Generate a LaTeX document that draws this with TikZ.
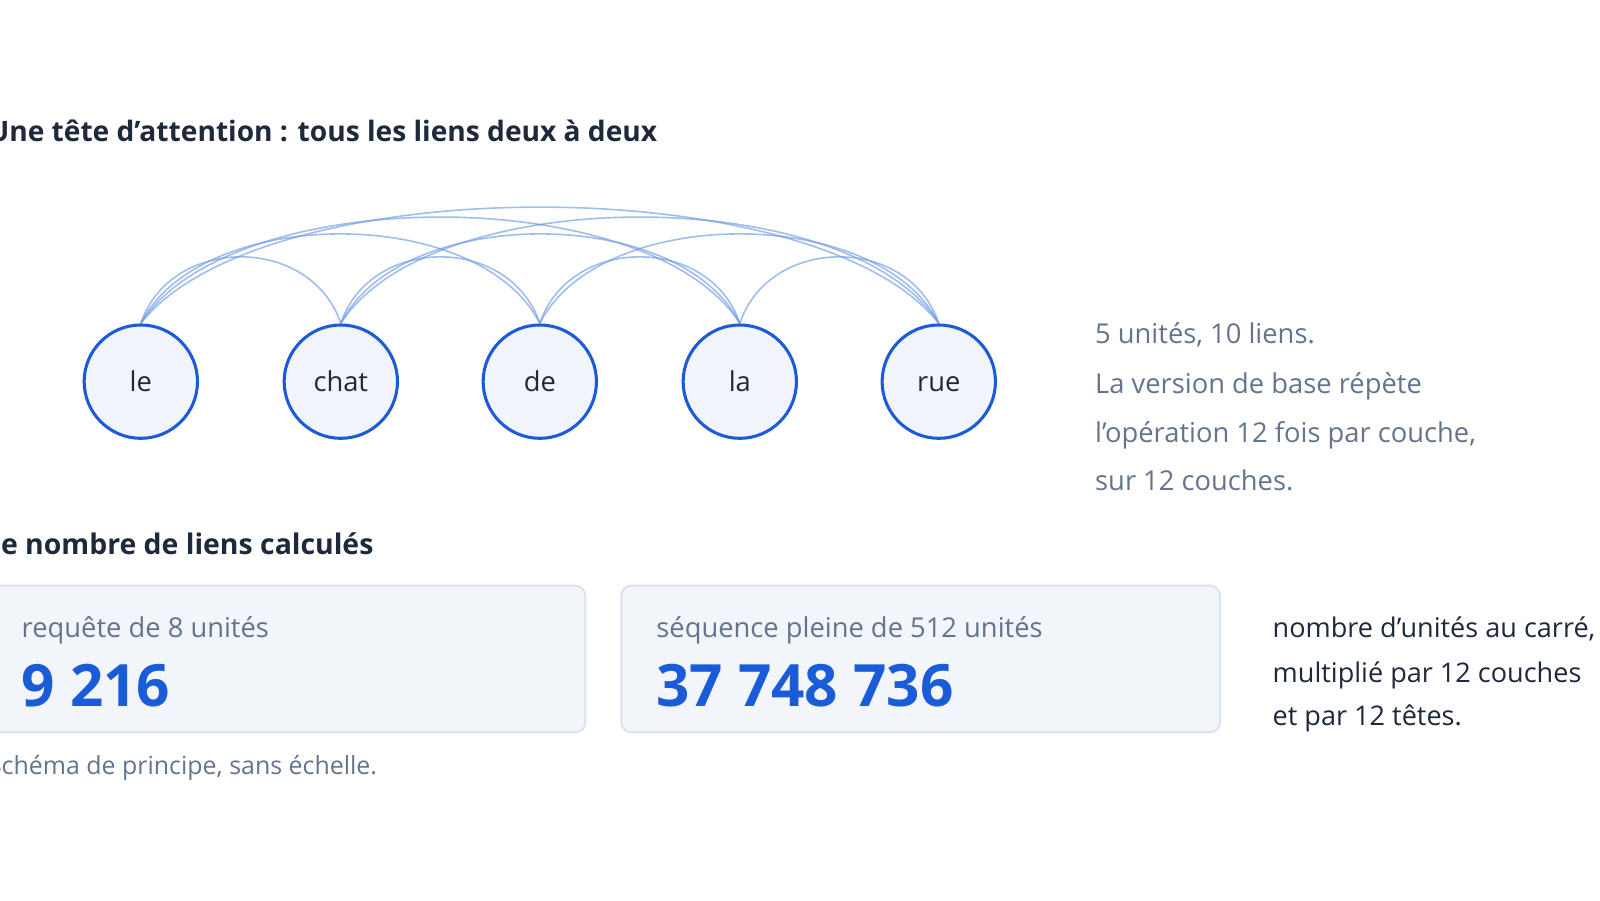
\documentclass[tikz,border=0pt]{standalone}
\usepackage{fontspec}
\setmainfont{Open Sans}
\definecolor{nodeblue}{HTML}{1D5BD6}
\definecolor{numblue}{HTML}{1A5CD8}
\definecolor{arcblue}{HTML}{6F9BE6}
\definecolor{nodefill}{HTML}{F1F5FB}
\definecolor{boxfill}{HTML}{F2F5FA}
\definecolor{boxline}{HTML}{DBE2EC}
\definecolor{graytext}{HTML}{64748B}
\definecolor{darktext}{HTML}{1E293B}
\newcommand{\fsz}[1]{\fontsize{#1}{#1}\selectfont}
\tikzset{
  tok/.style={circle, draw=nodeblue, line width=2.3pt, fill=nodefill, minimum size=85pt, inner sep=0pt, text=darktext, font=\fsz{20.5}, text height=15pt, text depth=0pt},
  lnk/.style={draw=arcblue, draw opacity=0.65, line width=1.2pt},
  heading/.style={anchor=base west, inner sep=0pt, text=darktext, font=\fsz{21.1}\bfseries},
  heading2/.style={heading, font=\fsz{21.3}\bfseries},
  note/.style={anchor=base west, inner sep=0pt, text=graytext, font=\fsz{20.5}},
  foot/.style={anchor=base west, inner sep=0pt, text=graytext, font=\fsz{18.7}},
  dnote/.style={anchor=base west, inner sep=0pt, text=darktext, font=\fsz{20.3}},
  card/.style={draw=boxline, line width=1.4pt, fill=boxfill, rounded corners=7.5pt, anchor=north west, inner sep=0pt},
  bignum/.style={anchor=base west, inner sep=0pt, text=numblue, font=\fsz{43.8}\bfseries},
}
\begin{document}
\begin{tikzpicture}[x=0.7653pt,y=-0.7653pt]
\useasboundingbox (0,0) rectangle (1568,882);
\fill[white] (0,0) rectangle (1568,882);

\node[heading] (t1) at (-12,139) {Une tête d’attention : tous les liens deux à deux};

\node[tok] (le) at (138,374) {le};
\node[tok] (chat) at (334,374) {chat};
\node[tok] (de) at (529,374) {de};
\node[tok] (la) at (725,374) {la};
\node[tok] (rue) at (920,374) {rue};

% distance 1
\draw[lnk] (le.north) .. controls +(29,-87) and +(-29,-87) .. (chat.north);
\draw[lnk] (chat.north) .. controls +(29,-87) and +(-29,-87) .. (de.north);
\draw[lnk] (de.north) .. controls +(29,-87) and +(-29,-87) .. (la.north);
\draw[lnk] (la.north) .. controls +(29,-87) and +(-29,-87) .. (rue.north);
% distance 2
\draw[lnk] (le.north) .. controls +(59,-117) and +(-59,-117) .. (de.north);
\draw[lnk] (chat.north) .. controls +(59,-117) and +(-59,-117) .. (la.north);
\draw[lnk] (de.north) .. controls +(59,-117) and +(-59,-117) .. (rue.north);
% distance 3
\draw[lnk] (le.north) .. controls +(88,-139) and +(-88,-139) .. (la.north);
\draw[lnk] (chat.north) .. controls +(88,-139) and +(-88,-139) .. (rue.north);
% distance 4
\draw[lnk] (le.north) .. controls +(118,-152) and +(-118,-152) .. (rue.north);

\node[note] (n1) at (1073,337) {5 unités, 10 liens.};
\node[note] (n2) at (1073,386) {La version de base répète};
\node[note] (n3) at (1073,434) {l’opération 12 fois par couche,};
\node[note] (n4) at (1073,481) {sur 12 couches.};

\node[heading2] (t2) at (-15,543) {Le nombre de liens calculés};

\node[card, minimum width=446pt, minimum height=110pt] (c1) at (-10,573) {};
\node[card, minimum width=449pt, minimum height=110pt] (c2) at (608,573) {};

\node[note] (l1) at (21,625) {requête de 8 unités};
\node[bignum] (v1) at (21,692) {9 216};
\node[note] (l2) at (643,625) {séquence pleine de 512 unités};
\node[bignum] (v2) at (643,692) {37 748 736};

\node[dnote] (d1) at (1247,625) {nombre d’unités au carré,};
\node[dnote] (d2) at (1247,669) {multiplié par 12 couches};
\node[dnote] (d3) at (1247,711) {et par 12 têtes.};

\node[foot] (f1) at (-12,759) {Schéma de principe, sans échelle.};
\end{tikzpicture}
\end{document}
